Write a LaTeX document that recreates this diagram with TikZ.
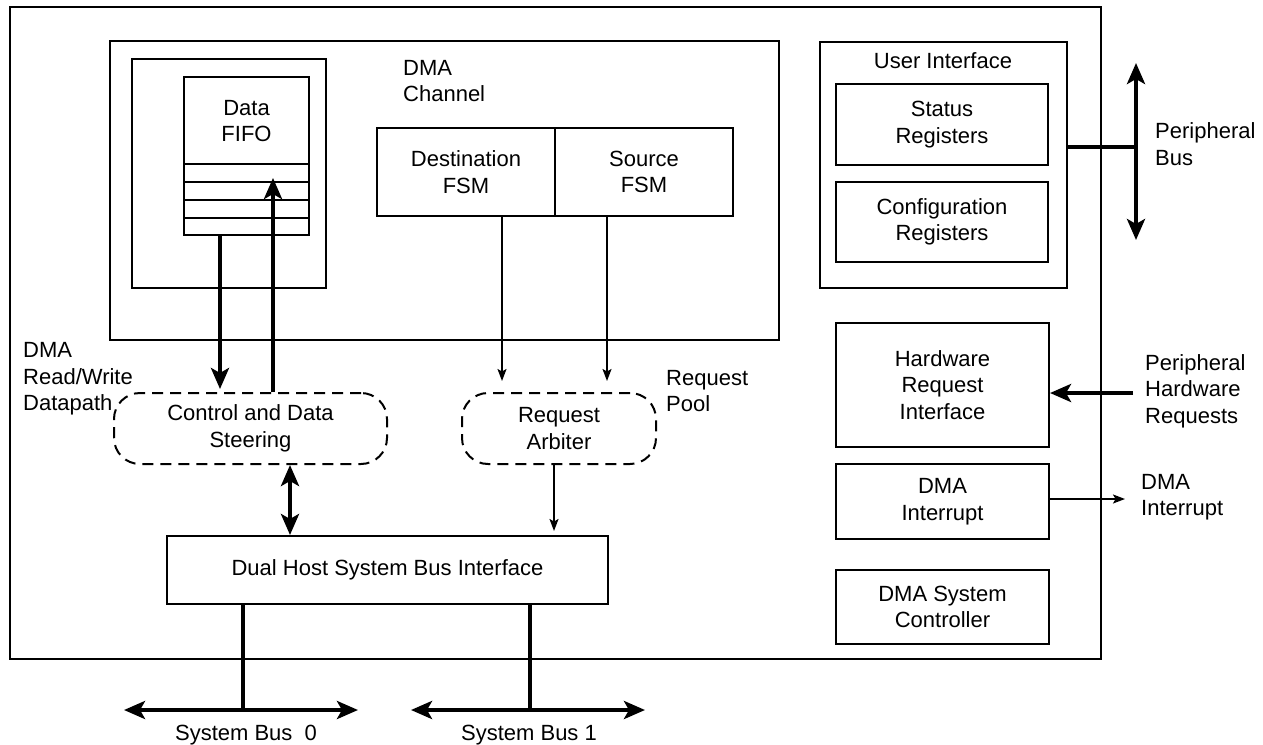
\documentclass[tikz,border=0pt]{standalone}
\usepackage{fontspec}
\setmainfont{Liberation Sans}
\usetikzlibrary{arrows.meta}
\begin{document}
\begin{tikzpicture}[x=1pt,y=-1pt,
  font=\fontsize{22}{26.5}\selectfont,
  box/.style={draw, line width=2pt, inner sep=0pt, align=center},
  dbox/.style={draw, line width=2pt, inner sep=0pt, align=center, dash pattern=on 11pt off 7pt, rounded corners=26pt},
  lbl/.style={inner sep=0pt, align=left, anchor=west},
  ctext/.style={inner sep=0pt, align=center},
  bigarrow/.style={line width=4.5pt, -{Stealth[length=21pt,width=18pt,inset=5pt]}},
  bigdarrow/.style={line width=4.5pt, {Stealth[length=21pt,width=18pt,inset=5pt]}-{Stealth[length=21pt,width=18pt,inset=5pt]}},
  thinarrow/.style={line width=1.6pt, -{Stealth[length=12pt,width=9pt,inset=2.5pt]}},
  busline/.style={line width=4.5pt},
]
\useasboundingbox (0,0) rectangle (1263,744);

% outer and channel boxes
\node[box, minimum width=1091pt, minimum height=652pt] (outer) at (555.5,333) {};
\node[box, minimum width=669pt, minimum height=299pt] (chan) at (444.5,190.5) {};
\node[box, minimum width=194pt, minimum height=229pt] (fifoc) at (229,173.5) {};
\node[box, minimum width=125pt, minimum height=158pt] (fifo) at (246.5,156) {};
\foreach \yy in {164,182,200,218} \draw[line width=2pt] (fifo.west |- 0,\yy) -- (fifo.east |- 0,\yy);
\node[ctext] (fifotxt) at (246.5,121) {Data\\FIFO};
\node[lbl] (chanlbl) at (403,81) {DMA\\Channel};
\node[box, minimum width=178pt, minimum height=88pt] (dest) at (466,172) {Destination\\FSM};
\node[box, minimum width=178pt, minimum height=88pt] (src) at (644,172) {Source\\FSM};

% dashed blocks
\node[dbox, minimum width=273pt, minimum height=71pt] (ctrl) at (250.5,428.5) {Control and Data\\Steering};
\node[dbox, minimum width=194pt, minimum height=71pt] (arb) at (559,428.5) {Request\\Arbiter};
\node[lbl] (dplbl) at (23,379) {DMA\\Read/Write\\Datapath};
\node[lbl] (pool) at (666,391) {Request\\Pool};
\node[box, minimum width=441pt, minimum height=68pt] (dual) at (387.5,570) {Dual Host System Bus Interface};

% right column
\node[box, minimum width=247pt, minimum height=246pt] (ui) at (943.5,165) {};
\node[ctext] (uilbl) at (943,61) {User Interface};
\node[box, minimum width=212pt, minimum height=81pt] (stat) at (942,124.5) {Status\\Registers};
\node[box, minimum width=212pt, minimum height=80pt] (conf) at (942,222) {Configuration\\Registers};
\node[box, minimum width=213pt, minimum height=124pt] (hw) at (942.5,385) {Hardware\\Request\\Interface};
\node[box, minimum width=213pt, minimum height=75pt] (irq) at (942.5,501.5) {DMA\\Interrupt};
\node[box, minimum width=213pt, minimum height=74pt] (ctl) at (942.5,607) {DMA System\\Controller};

% outside labels
\node[lbl] (pbus) at (1155,144) {Peripheral\\Bus};
\node[lbl] (phw) at (1145,391) {Peripheral\\Hardware\\Requests};
\node[lbl] (irqlbl) at (1141,497) {DMA\\Interrupt};
\node[inner sep=0pt, anchor=base] (sb0) at (246,740) {System Bus~~0};
\node[inner sep=0pt, anchor=base] (sb1) at (529,740) {System Bus 1};

% coordinates
\coordinate (upend) at (273,178);
\coordinate (b0) at (243,710);
\coordinate (b0l) at (124,710);
\coordinate (b0r) at (358,710);
\coordinate (b1) at (530,710);
\coordinate (b1l) at (411,710);
\coordinate (b1r) at (645,710);
\coordinate (pb) at (1136,147);
\coordinate (pbt) at (1136,63);
\coordinate (pbb) at (1136,240);
\coordinate (hwin) at (1133,393);
\coordinate (irqout) at (1125,499);

% connectors
\draw[bigarrow, shorten >=3pt] (fifo.south -| 220,0) -- (ctrl.north -| 220,0);
\draw[bigarrow] (ctrl.north -| upend) -- (upend);
\draw[thinarrow, shorten >=11pt] (dest.south -| 502,0) -- (arb.north -| 502,0);
\draw[thinarrow, shorten >=11pt] (src.south -| 607,0) -- (arb.north -| 607,0);
\draw[thinarrow, shorten >=4pt] (arb.south -| 554,0) -- (dual.north -| 554,0);
\draw[bigdarrow] (ctrl.south -| 290,0) -- (dual.north -| 290,0);

\draw[busline] (dual.south -| b0) -- (b0);
\draw[bigdarrow] (b0l) -- (b0r);
\draw[busline] (dual.south -| b1) -- (b1);
\draw[bigdarrow] (b1l) -- (b1r);

\draw[busline] (ui.east |- pb) -- (pb);
\draw[bigdarrow] (pbt) -- (pbb);
\draw[bigarrow] (hwin) -- (hw.east |- hwin);
\draw[thinarrow] (irq.east |- irqout) -- (irqout);
\end{tikzpicture}
\end{document}
